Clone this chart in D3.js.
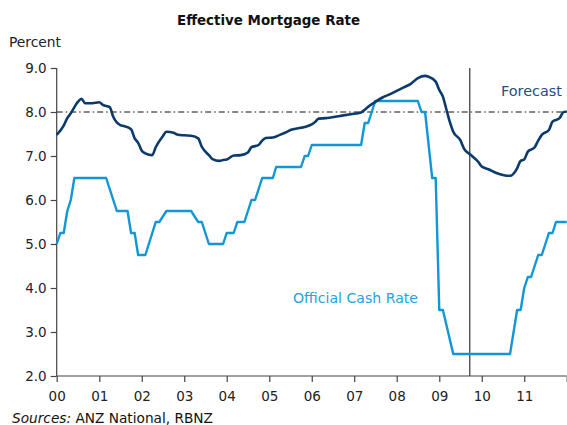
<!DOCTYPE html>
<html>
<head>
<meta charset="utf-8">
<script src="https://cdn.jsdelivr.net/npm/d3@7"></script>
<style>
  body { margin: 0; background: #fff; }
  text { font-family: "DejaVu Sans", Verdana, sans-serif; }
</style>
</head>
<body>
<div class="chart"></div>
<script>
const mortgageRate = [
    ['2000-01', 7.48], ['2000-03', 7.69], ['2000-04', 7.86], ['2000-05', 7.97],
    ['2000-07', 8.23], ['2000-08', 8.30], ['2000-09', 8.20], ['2000-11', 8.20],
    ['2001-01', 8.22], ['2001-02', 8.16], ['2001-04', 8.11], ['2001-05', 7.89],
    ['2001-07', 7.70], ['2001-08', 7.68], ['2001-10', 7.61], ['2001-11', 7.40],
    ['2001-12', 7.30], ['2002-01', 7.12], ['2002-02', 7.06], ['2002-04', 7.02],
    ['2002-05', 7.20], ['2002-07', 7.45], ['2002-08', 7.55], ['2002-10', 7.53],
    ['2002-11', 7.49], ['2003-01', 7.47], ['2003-03', 7.46], ['2003-05', 7.40],
    ['2003-06', 7.21], ['2003-08', 7.02], ['2003-09', 6.93], ['2003-11', 6.89],
    ['2003-12', 6.91], ['2004-01', 6.92], ['2004-03', 7.01], ['2004-05', 7.02],
    ['2004-07', 7.08], ['2004-08', 7.20], ['2004-10', 7.25], ['2004-11', 7.35],
    ['2004-12', 7.41], ['2005-02', 7.42], ['2005-04', 7.48], ['2005-06', 7.55],
    ['2005-07', 7.59], ['2005-10', 7.64], ['2005-11', 7.66], ['2006-01', 7.72],
    ['2006-02', 7.78], ['2006-03', 7.85], ['2006-05', 7.86], ['2006-06', 7.87],
    ['2006-09', 7.91], ['2006-12', 7.95], ['2007-03', 7.99], ['2007-04', 8.05],
    ['2007-05', 8.12], ['2007-07', 8.23], ['2007-09', 8.33], ['2007-11', 8.40],
    ['2008-01', 8.48], ['2008-03', 8.56], ['2008-05', 8.64], ['2008-07', 8.77],
    ['2008-09', 8.82], ['2008-10', 8.80], ['2008-12', 8.69], ['2009-01', 8.50],
    ['2009-02', 8.35], ['2009-03', 8.08], ['2009-04', 7.78], ['2009-05', 7.55],
    ['2009-07', 7.36], ['2009-08', 7.17], ['2009-10', 7.02], ['2009-12', 6.87],
    ['2010-01', 6.76], ['2010-03', 6.70], ['2010-05', 6.62], ['2010-07', 6.57],
    ['2010-09', 6.55], ['2010-11', 6.72], ['2010-12', 6.89], ['2011-01', 6.92],
    ['2011-02', 7.10], ['2011-04', 7.20], ['2011-05', 7.35], ['2011-06', 7.48],
    ['2011-08', 7.59], ['2011-09', 7.78], ['2011-11', 7.86], ['2011-12', 7.99],
    ['2012-01', 8.01]
];

const cashRate = [
    ['2000-01', 5.0], ['2000-02', 5.25], ['2000-03', 5.25], ['2000-04', 5.75],
    ['2000-05', 6.0], ['2000-06', 6.5], ['2001-03', 6.5], ['2001-06', 5.75],
    ['2001-09', 5.75], ['2001-10', 5.25], ['2001-11', 5.25], ['2001-12', 4.75],
    ['2002-02', 4.75], ['2002-05', 5.5], ['2002-06', 5.5], ['2002-08', 5.75],
    ['2003-03', 5.75], ['2003-05', 5.5], ['2003-06', 5.5], ['2003-08', 5.0],
    ['2003-12', 5.0], ['2004-01', 5.25], ['2004-03', 5.25], ['2004-04', 5.5],
    ['2004-06', 5.5], ['2004-08', 6.0], ['2004-09', 6.0], ['2004-11', 6.5],
    ['2005-02', 6.5], ['2005-03', 6.75], ['2005-10', 6.75], ['2005-11', 7.0],
    ['2005-12', 7.0], ['2006-01', 7.25], ['2007-03', 7.25], ['2007-04', 7.75],
    ['2007-05', 7.75], ['2007-07', 8.25], ['2008-07', 8.25], ['2008-08', 8.0],
    ['2008-09', 8.0], ['2008-11', 6.5], ['2008-12', 6.5], ['2009-01', 3.5],
    ['2009-02', 3.5], ['2009-05', 2.5], ['2010-09', 2.5], ['2010-11', 3.5],
    ['2010-12', 3.5], ['2011-01', 4.0], ['2011-02', 4.25], ['2011-03', 4.25],
    ['2011-05', 4.75], ['2011-06', 4.75], ['2011-08', 5.25], ['2011-09', 5.25],
    ['2011-10', 5.5], ['2012-01', 5.5]
];

const yTicks = [2, 3, 4, 5, 6, 7, 8, 9];
const yearTicks = ['2000', '2001', '2002', '2003', '2004', '2005', '2006',
    '2007', '2008', '2009', '2010', '2011', '2012'];
const forecastStart = '2009-09-20';
const referenceRate = 8.0;

const width = 567, height = 425;
const margin = { top: 68, right: 0.3, bottom: 49, left: 56.7 };

const parseMonth = d3.timeParse('%Y-%m');
const parseYear = d3.timeParse('%Y');

const x = d3.scaleTime()
    .domain([parseYear('2000'), parseYear('2012')])
    .range([margin.left, width - margin.right]);
const y = d3.scaleLinear()
    .domain([2, 9])
    .range([height - margin.bottom, margin.top]);

const svg = d3.select('.chart')
    .append('svg')
        .attr('width', width)
        .attr('height', height);

svg.append('text')
    .attr('x', 177)
    .attr('y', 25)
    .attr('textLength', 183)
    .attr('lengthAdjust', 'spacingAndGlyphs')
    .style('font-size', '14px')
    .style('font-weight', 'bold')
    .attr('fill', '#111')
    .text('Effective Mortgage Rate');

svg.append('text')
    .attr('x', 9)
    .attr('y', 47)
    .attr('textLength', 52)
    .attr('lengthAdjust', 'spacingAndGlyphs')
    .style('font-size', '14px')
    .attr('fill', '#222')
    .text('Percent');

// axes
const yAxis = svg.append('g')
    .attr('transform', `translate(${margin.left},0)`)
    .call(d3.axisLeft(y).tickValues(yTicks).tickFormat(d3.format('.1f')).tickSize(6).tickPadding(4));
const xAxis = svg.append('g')
    .attr('transform', `translate(0,${height - margin.bottom})`)
    .call(d3.axisBottom(x)
        .tickValues(yearTicks.map(parseYear))
        .tickFormat(d => d.getFullYear() === 2012 ? '' : d3.timeFormat('%y')(d))
        .tickSize(6).tickPadding(9));

[yAxis, xAxis].forEach(g => {
    g.select('.domain').attr('stroke', '#444').attr('stroke-width', 1.2);
    g.selectAll('.tick line').attr('stroke', '#444').attr('stroke-width', 1.2);
    g.selectAll('.tick text')
        .style('font-family', '"DejaVu Sans", Verdana, sans-serif')
        .style('font-size', '13.5px')
        .attr('fill', '#222');
});
yAxis.select('.domain').attr('d', `M0,${y(2)}V${y(9)}`);
xAxis.select('.domain').attr('d', `M${margin.left},0H${width - margin.right}`);

// reference and forecast lines
svg.append('line')
    .attr('x1', x(parseYear('2000')))
    .attr('x2', x(parseYear('2012')))
    .attr('y1', y(referenceRate))
    .attr('y2', y(referenceRate))
    .attr('stroke', '#111')
    .attr('stroke-width', 1)
    .attr('stroke-dasharray', '6,3,1.5,3');

svg.append('line')
    .attr('x1', x(new Date(forecastStart)))
    .attr('x2', x(new Date(forecastStart)))
    .attr('y1', y(9))
    .attr('y2', y(2))
    .attr('stroke', '#333')
    .attr('stroke-width', 1.2);

const line = d3.line()
    .x(d => x(parseMonth(d[0])))
    .y(d => y(d[1]));

svg.append('path')
    .datum(cashRate)
    .attr('d', line)
    .attr('fill', 'none')
    .attr('stroke', '#1196d6')
    .attr('stroke-width', 2.4)
    .attr('stroke-linejoin', 'round');

svg.append('path')
    .datum(mortgageRate)
    .attr('d', line.curve(d3.curveMonotoneX))
    .attr('fill', 'none')
    .attr('stroke', '#0b3b6c')
    .attr('stroke-width', 2.6)
    .attr('stroke-linejoin', 'round');

svg.append('text')
    .attr('x', 501)
    .attr('y', 96)
    .attr('textLength', 61)
    .attr('lengthAdjust', 'spacingAndGlyphs')
    .style('font-size', '14px')
    .attr('fill', '#24507e')
    .text('Forecast');

svg.append('text')
    .attr('x', 293)
    .attr('y', 303)
    .attr('textLength', 125)
    .attr('lengthAdjust', 'spacingAndGlyphs')
    .style('font-size', '14px')
    .attr('fill', '#2aa0dc')
    .text('Official Cash Rate');

const source = svg.append('text')
    .attr('x', 12)
    .attr('y', 423)
    .attr('textLength', 201)
    .attr('lengthAdjust', 'spacingAndGlyphs')
    .style('font-size', '13.5px')
    .attr('fill', '#111');
source.append('tspan').style('font-style', 'italic').text('Sources:');
source.append('tspan').text(' ANZ National, RBNZ');
</script>
</body>
</html>
